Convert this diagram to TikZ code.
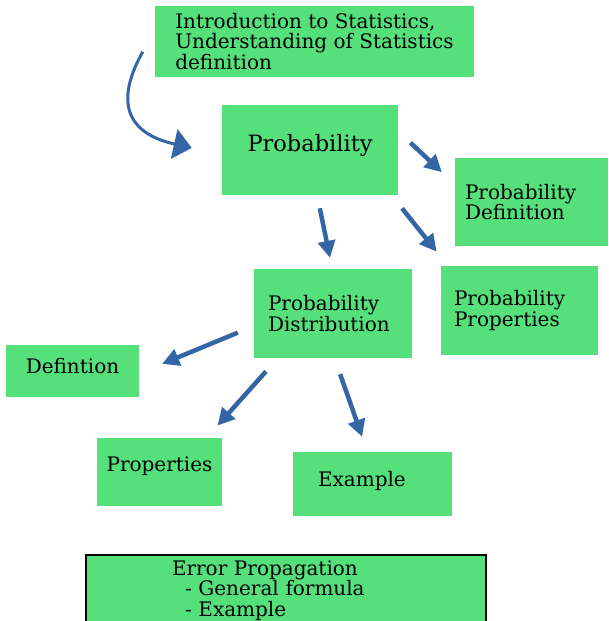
\documentclass[tikz,border=0pt]{standalone}
\usepackage{fontspec}
\setmainfont{DejaVu Serif}
\usetikzlibrary{arrows.meta}

\definecolor{boxgreen}{HTML}{55E07B}
\definecolor{arrowblue}{HTML}{3465A4}

\tikzset{
  box/.style={fill=boxgreen, inner sep=0pt, align=left,
    font=\fontsize{20}{20.5}\selectfont},
  oneline/.style={text height=15pt, text depth=#1},
  arr/.style={draw=arrowblue, line width=4.5pt,
    -{Triangle[length=17pt,width=17pt]}},
  bendarr/.style={draw=arrowblue, line width=3pt,
    -{Triangle[length=18pt,width=30pt]}}
}

\begin{document}
\begin{tikzpicture}[x=1pt, y=1pt]
  \useasboundingbox (0,0) rectangle (608,-621);

  \node[box, minimum width=319pt, minimum height=71pt] (intro) at (314.5,-41.5)
    {Introduction to Statistics,\\Understanding of Statistics\\definition};
  \node[box, minimum width=176pt, minimum height=90pt, oneline=11.6pt,
    font=\fontsize{22.5}{23}\selectfont] (prob) at (310,-150)
    {Probability};
  \node[box, minimum width=153pt, minimum height=88pt, text width=133pt] (probdef) at (531.5,-202)
    {Probability\\Definition};
  \node[box, minimum width=157pt, minimum height=89pt, text width=131pt] (probprop) at (519.5,-310.5)
    {Probability\\Properties};
  \node[box, minimum width=158pt, minimum height=89pt, text width=130pt] (probdist) at (333,-313.5)
    {Probability\\Distribution};
  \node[box, minimum width=133pt, minimum height=52pt, oneline=11pt] (distdef) at (72.5,-371)
    {Defintion};
  \node[box, minimum width=125pt, minimum height=68pt, oneline=17pt] (distprop) at (159.5,-472)
    {Properties};
  \node[box, minimum width=159pt, minimum height=64pt, oneline=11pt, text width=109pt] (distex) at (372.5,-484)
    {Example};
  \node[box, draw=black, line width=1.5pt, minimum width=400pt, inner ysep=6pt,
    text width=228pt, anchor=north] (errprop) at (286,-554)
    {Error Propagation\\\hspace*{13pt}- General formula\\\hspace*{13pt}- Example};

  \draw[bendarr, shorten <=24.5pt, shorten >=30.8pt] (intro.176)
    .. controls +(-43.8,-78) and +(-88.5,19.8) .. (prob.183);
  \draw[arr, shorten <=16.8pt, shorten >=17.7pt] (prob.12) -- (probdef.167);
  \draw[arr, shorten <=13.3pt, shorten >=11.2pt] (prob.-81) -- (probdist.91);
  \draw[arr, shorten <=16.8pt, shorten >=18.1pt] (prob.-29.5) -- (probprop.148.3);
  \draw[arr, shorten <=17.3pt, shorten >=24.8pt] (probdist.189.3) -- (distdef.-2.1);
  \draw[arr, shorten <=17.7pt, shorten >=16.4pt] (probdist.219.5) -- (distprop.36.8);
  \draw[arr, shorten <=16.9pt, shorten >=15.9pt] (probdist.-88.2) -- (distex.99.4);
\end{tikzpicture}
\end{document}
